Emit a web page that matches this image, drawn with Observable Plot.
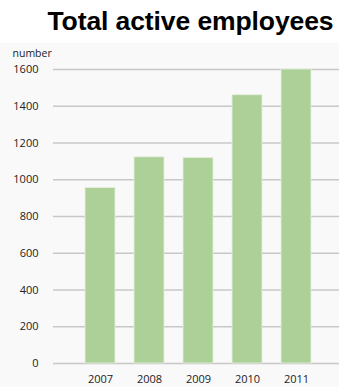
<!DOCTYPE html>
<html>
<head>
<meta charset="utf-8">
<script src="https://cdn.jsdelivr.net/npm/d3@7"></script>
<script src="https://cdn.jsdelivr.net/npm/@observablehq/plot@0.6"></script>
<style>
  html, body { margin: 0; padding: 0; background: #ffffff; }
  #wrap { width: 339px; height: 387px; overflow: hidden; }
  #title { height: 43px; box-sizing: border-box; padding-top: 7px; padding-left: 42px;
    font-family: "Liberation Sans", Arial, sans-serif; font-weight: bold; font-size: 26.5px;
    color: #000; text-align: center; white-space: nowrap; line-height: 29px; letter-spacing: -0.1px; }
  svg { display: block; }
</style>
</head>
<body>
<div id="wrap">
  <div id="title">Total active employees</div>
  <div id="chart"></div>
</div>
<script>
const years = ["2007", "2008", "2009", "2010", "2011"];
const employees = [955, 1122, 1119, 1460, 1600];
const yTicks = [0, 200, 400, 600, 800, 1000, 1200, 1400, 1600];
const yLabel = "number";

const data = years.map((y, i) => ({year: y, value: employees[i]}));

const chart = Plot.plot({
  width: 339,
  height: 344,
  marginTop: 26,
  marginBottom: 24,
  marginLeft: 53,
  marginRight: 0,
  style: {background: "#f9f9f9", fontFamily: "'Open Sans', sans-serif", fontSize: "11px", color: "#222"},
  x: {domain: years, paddingInner: 0.39, paddingOuter: 0.56, align: 0.54, label: null},
  y: {domain: [0, 1600], ticks: yTicks, label: null},
  marks: [
    Plot.gridY(yTicks, {stroke: "#c8c8c8", strokeOpacity: 1, strokeWidth: 1.5}),
    Plot.barY(data, {x: "year", y: "value", fill: "#acd098", stroke: "#e6f0de", strokeWidth: 0.8}),
    Plot.axisY(yTicks, {tickSize: 0, tickPadding: 15, label: null, fontSize: 11, tickFormat: d => String(d)}),
    Plot.axisX({tickSize: 0, tickPadding: 12, label: null, fontSize: 11}),
    Plot.text([yLabel], {frameAnchor: "top-left", dx: -41, dy: -20, text: d => d, textAnchor: "start", fontSize: 10.5})
  ]
});
document.getElementById("chart").appendChild(chart);
</script>
</body>
</html>
